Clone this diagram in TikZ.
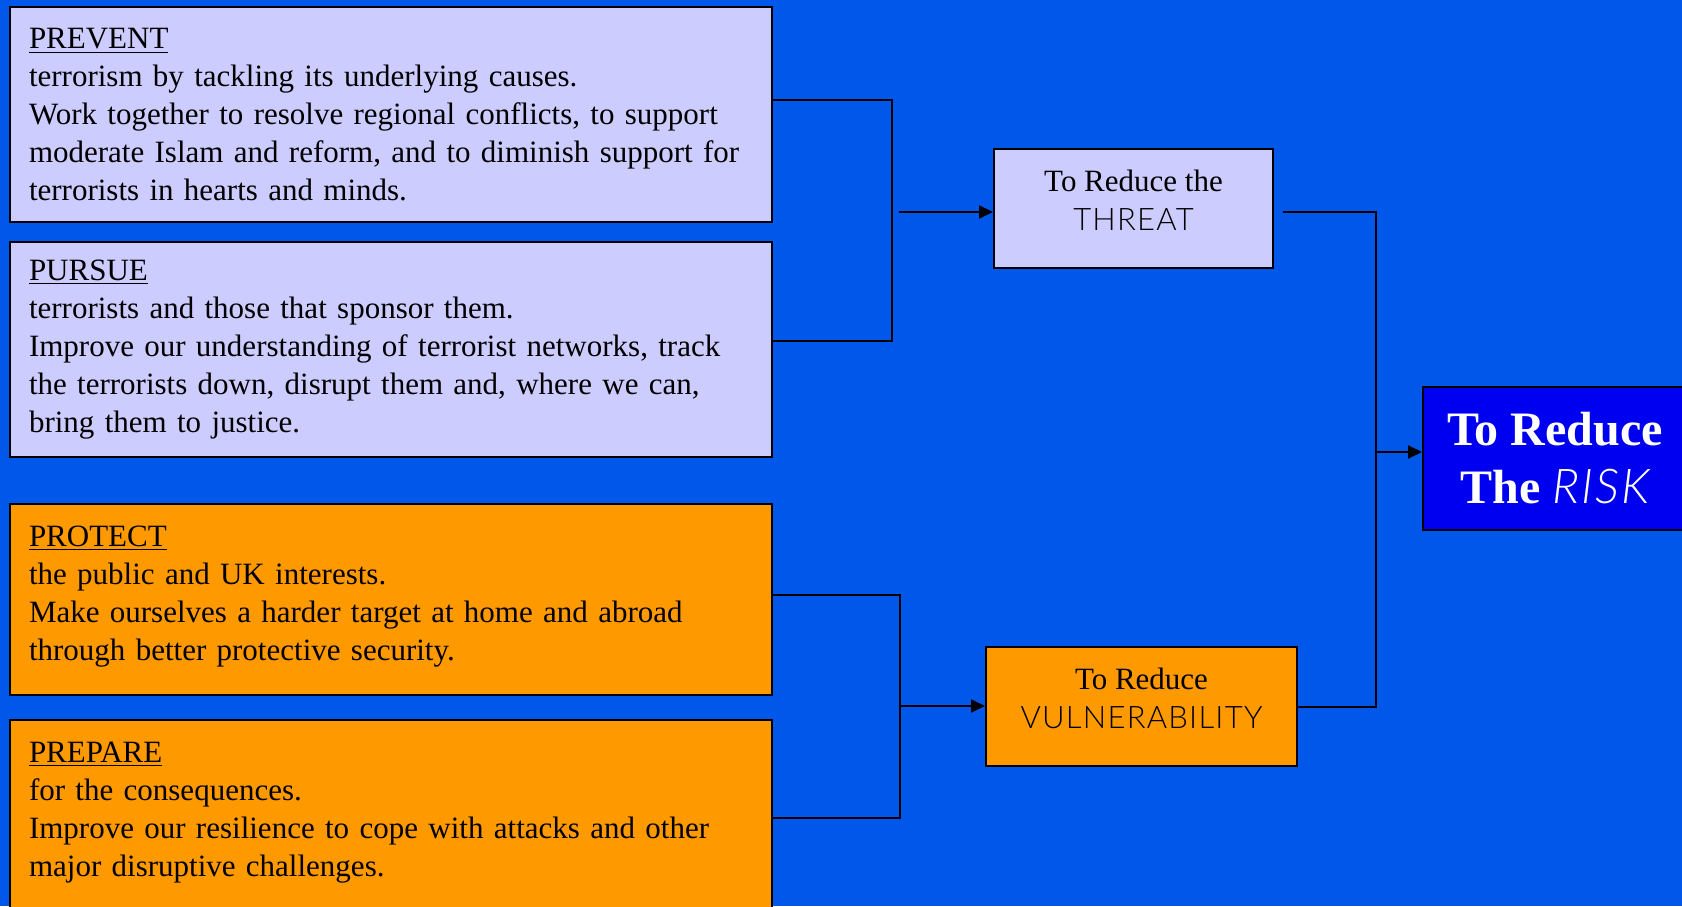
\documentclass[tikz,border=0pt]{standalone}
\usepackage{fontspec}
\setmainfont{Liberation Serif}
\newfontfamily\capsans[LetterSpace=4]{Lato Light}
\usetikzlibrary{arrows.meta}

\definecolor{slideblue}{HTML}{0057E9}
\definecolor{lavender}{HTML}{CCCCFF}
\definecolor{amber}{HTML}{FF9900}
\definecolor{riskblue}{HTML}{0000F0}

\tikzset{
  aim/.style={draw=black, line width=1pt, rectangle, anchor=north west,
    align=left, text width=362pt, inner xsep=9.7pt, inner ysep=0pt,
    font=\fontsize{15.5}{19}\selectfont},
  goal/.style={draw=black, line width=1pt, rectangle, align=center,
    inner sep=0pt, font=\fontsize{15.5}{19.5}\selectfont},
  link/.style={line width=1pt}
}

\begin{document}
\begin{tikzpicture}[>={Triangle[length=7pt,width=6.5pt]}, x=0.5pt, y=-0.5pt]
    \useasboundingbox (0,0) rectangle (1682,906);
    \clip (0,0) rectangle (1682,906);
    \fill[slideblue] (0,0) rectangle (1682,906);

    % the four strands
    \node[aim, fill=lavender, minimum height=107.3pt] (prevent) at (8.6,6.4) {%
      \underline{PREVENT}\\
      terrorism by tackling its underlying causes.\\
      Work together to resolve regional conflicts, to support\\
      moderate Islam and reform, and to diminish support for\\
      terrorists in hearts and minds.};
    \node[aim, fill=lavender, minimum height=107.5pt] (pursue) at (8.6,241) {%
      \underline{PURSUE}\\
      terrorists and those that sponsor them.\\
      Improve our understanding of terrorist networks, track\\
      the terrorists down, disrupt them and, where we can,\\
      bring them to justice.};
    \node[aim, fill=amber, minimum height=95.5pt] (protect) at (8.6,503) {%
      \underline{PROTECT}\\
      the public and UK interests.\\
      Make ourselves a harder target at home and abroad\\
      through better protective security.\\[-13pt]\mbox{}};
    \node[aim, fill=amber, minimum height=95.5pt] (prepare) at (8.6,719) {%
      \underline{PREPARE}\\
      for the consequences.\\
      Improve our resilience to cope with attacks and other\\
      major disruptive challenges.\\[-13pt]\mbox{}};

    % the aims
    \node[goal, fill=lavender, minimum width=139.5pt, minimum height=59.5pt] (threat)
      at (1133.5,208.5) {To Reduce the\\{\capsans THREAT}\\[-11pt]\mbox{}};
    \node[goal, fill=amber, minimum width=155.5pt, minimum height=59.5pt] (vuln)
      at (1141.5,706.5) {To Reduce\\{\capsans VULNERABILITY}\\[-11pt]\mbox{}};
    \node[goal, fill=riskblue, text=white, minimum width=132pt, minimum height=71.5pt,
      font=\fontsize{24}{29}\selectfont\bfseries] (risk)
      at (1555,458.5) {To Reduce\\The {\capsans\mdseries\itshape RISK}};

    \coordinate (tin) at (899,212);
    \coordinate (vin) at (899,706);
    \coordinate (rj) at (1376,452);

    \draw[link] ([yshift=7.5pt]prevent.east) -- ++(59.5pt,0) |- ([yshift=4.25pt]pursue.east);
    \draw[link,->] (tin) -- (tin -| threat.west);
    \draw[link] ([yshift=2.25pt]protect.east) -- ++(63.5pt,0) |- ([yshift=-1.25pt]prepare.east);
    \draw[link,->] (vin) -- (vin -| vuln.west);
    \draw[link] ([xshift=4.5pt,yshift=-1.75pt]threat.east) -| (rj) |- (vuln.east);
    \draw[link,->] (rj) -- (rj -| risk.west);
\end{tikzpicture}
\end{document}
